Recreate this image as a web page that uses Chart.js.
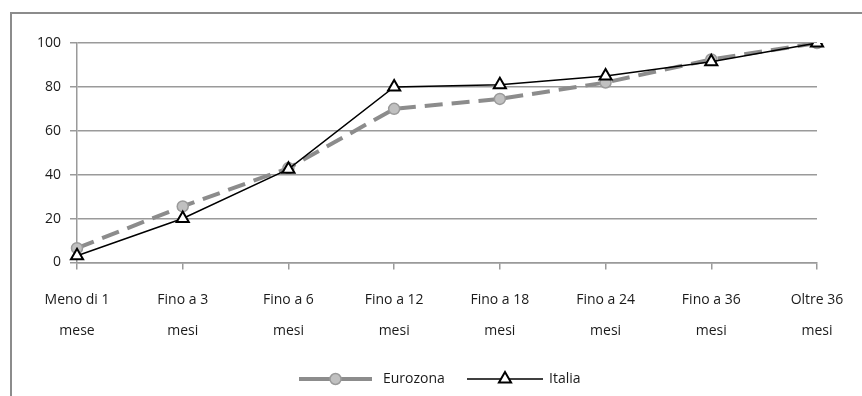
<!DOCTYPE html>
<html>
<head>
<meta charset="utf-8">
<script src="https://cdn.jsdelivr.net/npm/chart.js@4"></script>
<style>
    html, body { margin: 0; padding: 0; background: #fff; }
</style>
</head>
<body>
<canvas id="chart" width="862" height="396"></canvas>
<script>
const categories = [
    ['Meno di 1', 'mese'], ['Fino a 3', 'mesi'], ['Fino a 6', 'mesi'], ['Fino a 12', 'mesi'],
    ['Fino a 18', 'mesi'], ['Fino a 24', 'mesi'], ['Fino a 36', 'mesi'], ['Oltre 36', 'mesi']
];
const eurozona = [6.5, 25.5, 43, 70, 74.5, 82, 92.5, 100];
const italia = [3, 20, 42.5, 80, 81, 85, 91.5, 100];
const yTicks = [0, 20, 40, 60, 80, 100];

const colors = {
    grid: '#9a9a9a',
    frame: '#8c8c8c',
    euroLine: '#8c8c8c',
    euroFill: '#c0c0c0',
    euroBorder: '#9a9a9a',
    text: '#1a1a1a'
};
const font = "'Open Sans', sans-serif";

// outer chart frame (left + top edge visible in the crop)
const frame = {
    id: 'frame',
    beforeDraw(chart) {
        const ctx = chart.ctx;
        ctx.save();
        ctx.fillStyle = colors.frame;
        ctx.fillRect(10, 12, 2, 396);
        ctx.fillRect(10, 12, 852, 2);
        ctx.restore();
    }
};

// legend with line + marker samples
const lineLegend = {
    id: 'lineLegend',
    afterDraw(chart) {
        const ctx = chart.ctx;
        const y = 379;
        const items = [
            { ds: 0, x0: 299, x1: 372, tx: 383 },
            { ds: 1, x0: 467, x1: 543, tx: 549 }
        ];
        ctx.save();
        items.forEach(it => {
            const d = chart.data.datasets[it.ds];
            const cx = (it.x0 + it.x1) / 2;
            ctx.beginPath();
            ctx.strokeStyle = d.borderColor;
            ctx.lineWidth = d.borderWidth;
            ctx.setLineDash([]);
            ctx.moveTo(it.x0, y);
            ctx.lineTo(it.x1, y);
            ctx.stroke();
            ctx.fillStyle = d.pointBackgroundColor;
            ctx.strokeStyle = d.pointBorderColor;
            ctx.lineWidth = d.pointBorderWidth;
            Chart.helpers.drawPoint(ctx, {
                pointStyle: d.pointStyle, rotation: 0,
                borderWidth: d.pointBorderWidth, radius: d.pointRadius
            }, cx, y);
            ctx.fillStyle = colors.text;
            ctx.font = "14px " + font;
            ctx.textBaseline = 'middle';
            ctx.textAlign = 'left';
            ctx.fillText(d.label, it.tx, y);
        });
        ctx.restore();
    }
};

new Chart(document.getElementById('chart'), {
    type: 'line',
    data: {
        labels: categories,
        datasets: [
            {
                label: 'Eurozona',
                data: eurozona,
                order: 1,
                borderColor: colors.euroLine,
                borderWidth: 4,
                borderDash: [18, 9],
                pointStyle: 'circle',
                pointRadius: 5.5,
                pointBackgroundColor: colors.euroFill,
                pointBorderColor: colors.euroBorder,
                pointBorderWidth: 1.5,
                tension: 0
            },
            {
                label: 'Italia',
                data: italia,
                order: 0,
                borderColor: '#000',
                borderWidth: 1.5,
                pointStyle: 'triangle',
                pointRadius: 7,
                pointBackgroundColor: '#fff',
                pointBorderColor: '#000',
                pointBorderWidth: 2,
                tension: 0
            }
        ]
    },
    options: {
        responsive: false,
        animation: false,
        layout: { padding: { left: 28, right: 45, top: 43, bottom: 35 } },
        plugins: {
            legend: { display: false },
            tooltip: { enabled: false }
        },
        scales: {
            x: {
                offset: false,
                grid: { drawOnChartArea: false, drawTicks: true, tickLength: 7, color: colors.grid, lineWidth: 1.5 },
                border: { color: colors.grid, width: 1.5 },
                ticks: {
                    color: colors.text,
                    font: { family: font, size: 14, lineHeight: 2.2 },
                    maxRotation: 0,
                    autoSkip: false,
                    padding: 15
                }
            },
            y: {
                min: 0,
                max: 100,
                afterBuildTicks: axis => { axis.ticks = yTicks.map(v => ({ value: v })); },
                grid: { color: colors.grid, lineWidth: 1.5, tickLength: 7 },
                border: { color: colors.grid, width: 1.5 },
                ticks: {
                    color: colors.text,
                    font: { family: font, size: 14 },
                    padding: 9
                }
            }
        }
    },
    plugins: [frame, lineLegend]
});
</script>
</body>
</html>
